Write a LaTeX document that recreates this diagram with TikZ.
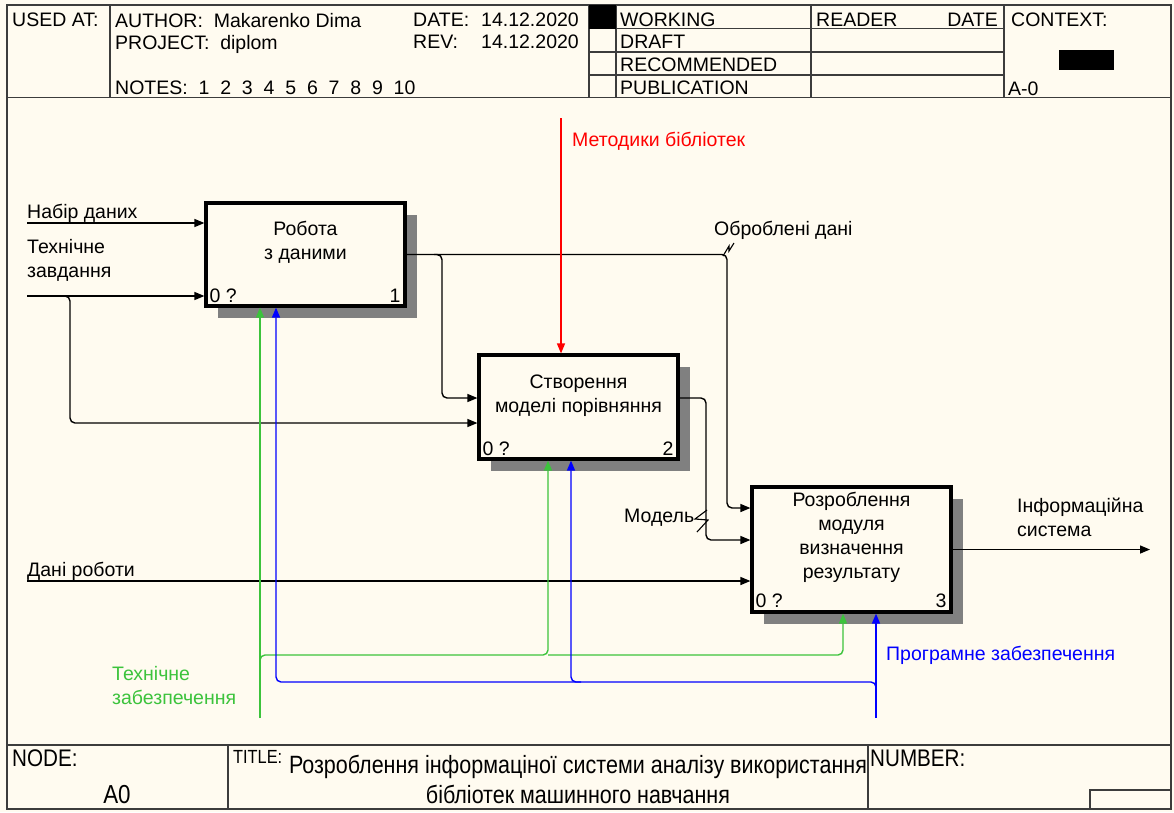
\documentclass[tikz,border=0pt]{standalone}
\usepackage{fontspec}
\setmainfont{Liberation Sans}
\newfontfamily\narrowfont[FakeStretch=0.86]{Liberation Sans}
\usetikzlibrary{arrows.meta,shadows,positioning}
\definecolor{paper}{RGB}{255,251,240}
\definecolor{framegray}{RGB}{60,60,60}
\definecolor{ctrlred}{RGB}{255,0,0}
\definecolor{mechgreen}{RGB}{60,195,60}
\definecolor{mechblue}{RGB}{0,0,255}
\begin{document}
\begin{tikzpicture}[x=1pt, y=-1pt,
  rule/.style={draw=framegray, line width=1.5pt},
  txt/.style={inner sep=0pt, anchor=north west, align=left, font=\labelfontsize},
  foot/.style={inner sep=0pt, anchor=north west, font=\footfontsize},
  box/.style={draw, line width=3.2pt, fill=paper, minimum width=199pt, inner sep=0pt,
    general shadow={fill=black!50, shadow xshift=12pt, shadow yshift=-12pt}},
  boxtxt/.style={inner sep=0pt, anchor=north, align=center, font=\labelfontsize},
  corner/.style={inner sep=0pt, font=\labelfontsize},
  flow/.style={draw, line width=1.4pt, rounded corners=5pt, -{Triangle[length=10pt,width=8pt]}},
  squiggle/.style={draw, line width=1.1pt},
]
\def\labelfontsize{\fontsize{19.5}{24}\selectfont}
\def\footfontsize{\narrowfont\fontsize{24}{30}\selectfont}

\fill[paper] (0,0) rectangle (1174,812);
\useasboundingbox (0,0) rectangle (1174,812);

\begin{scope} % HEADER
\draw[rule] (7,5) rectangle (1171,809);
\draw[rule] (7,97.5) -- (1171,97.5);
\draw[rule] (110,5) -- (110,97.5);
\foreach \x in {589,616,811,1004} \draw[rule] (\x,5) -- (\x,97.5);
\foreach \y in {28.5,52,75} \draw[rule] (589,\y) -- (1004,\y);
\fill[black] (589,5) rectangle (616,28.5);
\fill[black] (1059,50) rectangle (1114,70);

\node[txt] (usedat) at (12,13) {USED AT:};
\node[txt] (author) at (115,13) {AUTHOR:\ \ Makarenko Dima};
\node[txt] (project) at (115,35) {PROJECT:\ \ diplom};
\node[txt] (notes) at (115,81) {NOTES:\ \ 1\ \ 2\ \ 3\ \ 4\ \ 5\ \ 6\ \ 7\ \ 8\ \ 9\ \ 10};
\node[txt] (date) at (413,13) {DATE:};
\node[txt] (date-v) at (481,13) {14.12.2020};
\node[txt] (rev) at (413,35) {REV:};
\node[txt] (rev-v) at (481,35) {14.12.2020};
\node[txt] (working) at (620,13) {WORKING};
\node[txt] (draft) at (620,35) {DRAFT};
\node[txt] (recommended) at (620,58) {RECOMMENDED};
\node[txt] (publication) at (620,81) {PUBLICATION};
\node[txt] (reader) at (816,13) {READER};
\node[txt, anchor=north east] (reader-date) at (998,13) {DATE};
\node[txt] (context) at (1011,13) {CONTEXT:};
\node[txt] (context-n) at (1008,82) {A-0};
\end{scope}

\begin{scope} % FOOTER
\draw[rule] (7,745) -- (1171,745);
\draw[rule] (228,745) -- (228,809);
\draw[rule] (868,745) -- (868,809);
\draw[rule] (1090,809) -- (1090,790) -- (1171,790);

\node[foot] (node-l) at (12,750) {NODE:};
\node[foot, anchor=north, font=\narrowfont\fontsize{26}{30}\selectfont] (node-v) at (117,785) {A0};
\node[foot, font=\narrowfont\fontsize{19}{24}\selectfont] (title-l) at (233,750) {TITLE:};
\node[foot, anchor=north, align=center, font=\narrowfont\fontsize{25}{30}\selectfont] (title-v) at (578,755) {Розроблення інформаціної системи аналізу використання\\бібліотек машинного навчання};
\node[foot] (number-l) at (870,750) {NUMBER:};
\end{scope}

% boxes
\node[box, minimum height=103pt] (work) at (305.5,254.5) {};
\node[box, minimum height=104pt] (model) at (578.5,407) {};
\node[box, minimum height=125pt] (result) at (851.5,549.5) {};

\node[boxtxt, below=20pt of work.north] (work-txt) {Робота\\з даними};
\node[boxtxt, below=21pt of model.north] (model-txt) {Створення\\моделі порівняння};
\node[boxtxt, below=7pt of result.north] (result-txt) {Розроблення\\модуля\\визначення\\результату};

\node[corner, above right=5pt and 5pt of work.south west] (work-c) {0 ?};
\node[corner, above left=5pt and 6pt of work.south east] (work-n) {1};
\node[corner, above right=5pt and 5pt of model.south west] (model-c) {0 ?};
\node[corner, above left=5pt and 6pt of model.south east] (model-n) {2};
\node[corner, above right=6pt and 5pt of result.south west] (result-c) {0 ?};
\node[corner, above left=6pt and 6pt of result.south east] (result-n) {3};

% inputs
\coordinate (data-in) at (27,223);
\coordinate (task-in) at (27,296);
\coordinate (task-split) at (70,296);
\coordinate (task-low) at (70,423);
\coordinate (job-in) at (27,581);
\draw[flow] (data-in) -- (data-in -| work.west);
\draw[flow] (task-in) -- (task-in -| work.west);
\draw[flow] ([xshift=-8pt]task-split) -- (task-split) -- (task-low) -- (task-low -| model.west);
\draw[flow] (job-in) -- (job-in -| result.west);

% outputs
\coordinate (clean-split) at (442,254.5);
\coordinate (clean-low) at (442,398);
\coordinate (clean-turn) at (727,254.5);
\coordinate (clean-down) at (727,508);
\coordinate (model-turn) at (706,398);
\coordinate (model-down) at (706,540);
\coordinate (sys-out) at (1150,549.5);
\draw[flow] (work.east) -- (clean-turn) -- (clean-down) -- (clean-down -| result.west);
\draw[flow] ([xshift=-8pt]clean-split) -- (clean-split) -- (clean-low) -- (clean-low -| model.west);
\draw[flow] (model-turn -| model.east) -- (model-turn) -- (model-down) -- (model-down -| result.west);
\draw[flow] (result.east) -- (sys-out);

% control
\coordinate (ctrl-top) at (561,118);
\draw[flow, ctrlred] (ctrl-top) -- (ctrl-top |- model.north);

% mechanisms
\coordinate (tech-bot) at (260,718);
\coordinate (tech-bus) at (260,655);
\coordinate (tech-m2) at (548,655);
\coordinate (tech-m3) at (843,655);
\draw[flow, mechgreen] (tech-bot) -- (tech-bot |- work.south);
\draw[flow, mechgreen] (tech-bus) ++(0,10) -- (tech-bus) -- (tech-m2) -- (tech-m2 |- model.south);
\draw[flow, mechgreen] (tech-m2) -- (tech-m3) -- (tech-m3 |- result.south);

\coordinate (soft-bot) at (876,718);
\coordinate (soft-bus) at (876,682);
\coordinate (soft-m2) at (571,682);
\coordinate (soft-m1) at (276,682);
\draw[flow, mechblue] (soft-bot) -- (soft-bot |- result.south);
\draw[flow, mechblue] (soft-bus) ++(0,10) -- (soft-bus) -- (soft-m1) -- (soft-m1 |- work.south);
\draw[flow, mechblue] (soft-m2) ++(10,0) -- (soft-m2) -- (soft-m2 |- model.south);

% arrow labels
\node[txt] (data-lbl) at (27,204) {Набір даних};
\node[txt] (task-lbl) at (27,239) {Технічне\\завдання};
\node[txt] (job-lbl) at (27,562) {Дані роботи};
\node[txt] (clean-lbl) at (714,221) {Оброблені дані};
\node[txt] (model-lbl) at (624,509) {Модель};
\node[txt] (sys-lbl) at (1017,498) {Інформаційна\\система};
\node[txt, text=ctrlred] (ctrl-lbl) at (572,132) {Методики бібліотек};
\node[txt, text=mechgreen] (tech-lbl) at (112,666) {Технічне\\забезпечення};
\node[txt, text=mechblue] (soft-lbl) at (886,646) {Програмне забезпечення};

\draw[squiggle] (723,256) -- (729,246) -- (729,251) -- (734,243);
\draw[squiggle] (707,510) -- (695,519) -- (708,520) -- (697,532);
\end{tikzpicture}
\end{document}
